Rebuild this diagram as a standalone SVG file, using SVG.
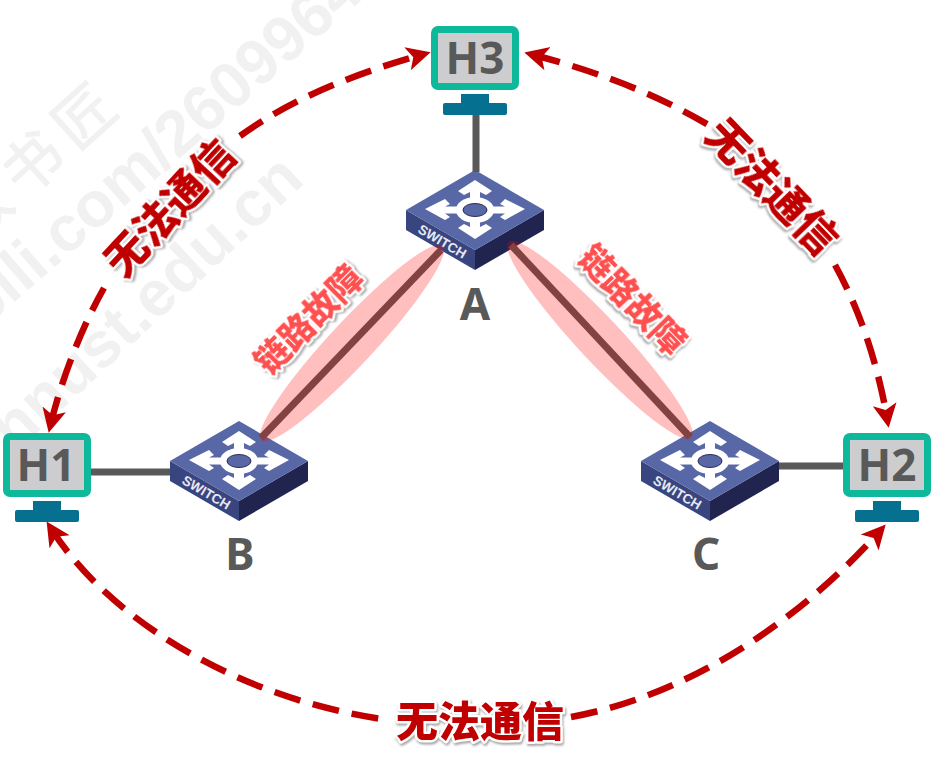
<svg xmlns="http://www.w3.org/2000/svg" width="941" height="760" viewBox="0 0 941 760">
<style>
.wm{font-family:"Liberation Sans","Noto Sans CJK SC",sans-serif;fill:#f1f1f1;font-weight:700;font-size:64px}
.wmc{font-family:"Noto Sans CJK SC",sans-serif;fill:#f1f1f1;font-weight:500;font-size:60px;letter-spacing:10px;text-anchor:middle}
.lan{fill:none;stroke:#595959;stroke-width:7}
.fault{fill:#ff0000;fill-opacity:.25}
.arc{fill:none;stroke:#c00000;stroke-width:6.500;stroke-dasharray:27 13}
.host{font-family:"Noto Sans","Liberation Sans",sans-serif;font-weight:700;font-size:44px;fill:#595959;text-anchor:middle}
.sw{font-family:"Liberation Sans",sans-serif;font-weight:700;font-size:13.5px;fill:#e6e8f4}
.lbl{font-family:"Noto Sans CJK SC",sans-serif;font-weight:900;text-anchor:middle;paint-order:stroke;stroke:#fff;stroke-linejoin:round;filter:drop-shadow(1px 2px 1px rgba(0,0,0,.35))}
.no{font-size:42px;fill:#c00000;stroke-width:5px}
.bad{font-size:34px;fill:#ff5050;stroke-width:5px}
</style>
<defs>
<marker id="head" markerUnits="userSpaceOnUse" markerWidth="25" markerHeight="26" viewBox="0 0 25 26" refX="14" refY="13" orient="auto-start-reverse">
<path d="M24,13 L0,1 L6,13 L0,25 Z" fill="#c00000"/>
</marker>
<g id="monitor">
<rect x="0" y="0" width="88" height="64" rx="7" fill="#0db89b"/>
<rect x="7" y="7" width="74" height="50" fill="#cdcdd0"/>
<rect x="30" y="68" width="28" height="10" fill="#05708f"/>
<rect x="12" y="77" width="64" height="12" rx="2" fill="#05708f"/>
</g>
<g id="switch">
<path d="M-69,40 L0,80 L0,100 L-69,60 Z" fill="#39457f"/>
<path d="M69,40 L0,80 L0,100 L69,60 Z" fill="#21244f"/>
<path d="M0,0 L69,40 L0,80 L-69,40 Z" fill="#5868a6"/>
<path d="M0,10 L17,21 L11,25 L5,22 L5,30 L-5,30 L-5,22 L-11,25 L-17,21 Z" fill="#fff"/>
<path d="M0,69 L17,58 L11,54 L5,57 L5,50 L-5,50 L-5,57 L-11,54 L-17,58 Z" fill="#fff"/>
<path d="M-50,39 L-30,29 L-25,34 L-30,36.500 L-14,36.500 L-14,43.500 L-30,43.500 L-25,47 L-30,50 Z" fill="#fff"/>
<path d="M50,39 L30,29 L25,34 L30,36.500 L14,36.500 L14,43.500 L30,43.500 L25,47 L30,50 Z" fill="#fff"/>
<ellipse cx="0" cy="40" rx="19" ry="13" fill="#fff"/>
<ellipse cx="0" cy="40" rx="12" ry="6.500" fill="#5868a6" stroke="#2a2d50" stroke-width="1"/>
</g>
</defs>
<rect width="941" height="760" fill="#fff"/>
<g id="watermark">
<text class="wmc" x="5" y="22" transform="translate(32,163) rotate(-42)">教书匠</text>
<text class="wm" transform="translate(-88,391) rotate(-41)">bilibili.com/26099646</text>
<text class="wm" text-anchor="end" transform="translate(306,182) rotate(-43)">hnust.edu.cn</text>
</g>
<g id="H3"><use href="#monitor" x="431" y="26"/><text class="host" x="475" y="74">H3</text></g>
<g id="H1"><use href="#monitor" x="3" y="433"/><text class="host" x="46" y="481">H1</text></g>
<g id="H2"><use href="#monitor" x="843" y="433"/><text class="host" x="887" y="481">H2</text></g>
<g id="A"><use href="#switch" x="475" y="170"/><text class="sw" transform="translate(417,232) rotate(30.500)">SWITCH</text><text class="host" x="475" y="320">A</text></g>
<g id="B"><use href="#switch" x="239" y="421"/><text class="sw" transform="translate(181,483) rotate(30.500)">SWITCH</text><text class="host" x="240" y="570">B</text></g>
<g id="C"><use href="#switch" x="710" y="421"/><text class="sw" transform="translate(652,483) rotate(30.500)">SWITCH</text><text class="host" x="706" y="570">C</text></g>
<g id="connectors">
<path class="lan" d="M476,115 V172"/>
<path class="lan" d="M91,472 H170"/>
<path class="lan" d="M779,466 H843"/>
<path class="lan" d="M441,250 L261,438"/>
<path class="lan" d="M511,245 L690,437"/>
<ellipse class="fault" cx="352" cy="343" rx="133" ry="22" transform="rotate(-47 352 343)"/>
<ellipse class="fault" cx="600" cy="340" rx="134" ry="22" transform="rotate(47 600 340)"/>
<path class="arc" marker-start="url(#head)" d="M51,423 C60,385 80,330 104,288"/>
<path class="arc" marker-end="url(#head)" d="M240,136 C290,100 350,75 421,55"/>
<path class="arc" marker-start="url(#head)" d="M534,55 C590,70 650,90 712,127"/>
<path class="arc" marker-end="url(#head)" d="M835,265 C860,310 878,365 887,418"/>
<path class="arc" marker-start="url(#head)" d="M52,530 C110,620 240,700 389,720"/>
<path class="arc" marker-end="url(#head)" d="M571,717 C690,695 800,620 879,532"/>
</g>
<g id="labels">
<text class="lbl no" x="0" y="15" transform="translate(170,208) rotate(-47)">无法通信</text>
<text class="lbl no" x="0" y="15" transform="translate(772,187) rotate(46)">无法通信</text>
<text class="lbl no" x="480" y="737">无法通信</text>
<text class="lbl bad" x="0" y="12" transform="translate(309,320) rotate(-45)">链路故障</text>
<text class="lbl bad" x="0" y="12" transform="translate(632,300) rotate(46)">链路故障</text>
</g>
</svg>
